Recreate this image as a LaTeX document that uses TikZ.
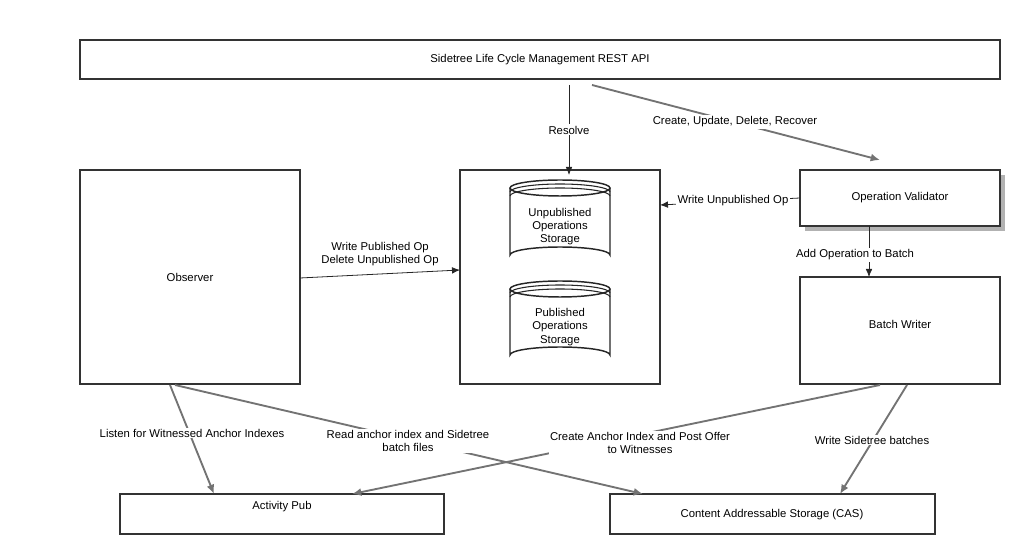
\documentclass[tikz,border=0pt]{standalone}
\usepackage{fontspec}
\setmainfont{Liberation Sans}
\begin{document}
\begin{tikzpicture}[x=0.75pt,y=-0.75pt,font=\fontsize{8.5}{10}\selectfont,
 box/.style={draw=black!80,line width=1.2pt},
 lab/.style={fill=white,inner sep=1pt,align=center},
 garr/.style={draw=black!55,line width=1.4pt,-{Latex[length=7pt,width=6pt]}},
 barr/.style={draw=black!85,line width=0.6pt,-{Latex[length=6pt,width=5pt]}}]
\useasboundingbox (0,0) rectangle (1026,555);
\usetikzlibrary{arrows.meta}
\draw[box] (80,40) rectangle (1000,79);
\node (api) at (540,59.5) {Sidetree Life Cycle Management REST API};
\draw[box] (80,170) rectangle (300,384);
\node (obs) at (190,277) {Observer};
\draw[box] (460,170) rectangle (660,384);
\coordinate (st) at (560,277);
\fill[black!30] (805,175) rectangle (1005,231);
\draw[box,fill=white,line width=1.6pt] (800,170) rectangle (1000,226);
\node (ov) at (900,198) {Operation Validator};
\draw[box] (800,277) rectangle (1000,384);
\node (bw) at (900,324) {Batch Writer};
\draw[box] (120,494) rectangle (444,534);
\node (ap) at (282,507) {Activity Pub};
\draw[box] (610,494) rectangle (935,534);
\node (cas) at (772,515) {Content Addressable Storage (CAS)};
% cylinders
\foreach \t/\b/\txt in {180/263/{Unpublished\\Operations\\Storage},281/363/{Published\\Operations\\Storage}}{
 \draw[black!85,line width=1.1pt,fill=white] (510,\t+8) -- (510,\b-8) arc[start angle=180,end angle=360,x radius=50,y radius=8] -- (610,\t+8);
 \draw[black!85,line width=1.1pt] (560,\t+8) ellipse[x radius=50,y radius=8];
 \draw[black!85,line width=0.8pt] (510,\t+12) arc[start angle=180,end angle=360,x radius=50,y radius=8];
 \draw[black!85,line width=0.8pt] (510,\t+16) arc[start angle=180,end angle=360,x radius=50,y radius=8];
 \node[align=center] at (560,{(\t+\b)/2+5}) {\txt};
}
% connectors
\draw[barr] (569,85) -- (569,175);
\node[lab] at (569,130) {Resolve};
\draw[garr] (592,85) -- (880,160);
\node[lab] at (735,122) {Create, Update, Delete, Recover};
\draw[barr] (800,198) -- (660,205);
\node[lab] at (733,201) {Write Unpublished Op};
\draw[barr] (869,226) -- (869,277);
\node[lab] at (855,255) {Add Operation to Batch};
\draw[barr] (300,278) -- (460,270);
\node[align=center] at (380,254) {Write Published Op\\Delete Unpublished Op};
\draw[garr] (170,385) -- (214,494);
\draw[garr] (175,385) -- (643,494);
\draw[garr] (880,385) -- (352,494);
\draw[garr] (907,385) -- (840,494);
\node[lab] at (192,433) {Listen for Witnessed Anchor Indexes};
\node[lab] at (408,441) {Read anchor index and Sidetree\\batch files};
\node[lab] at (640,443) {Create Anchor Index and Post Offer\\to Witnesses};
\node[lab] at (872,440) {Write Sidetree batches};
\end{tikzpicture}
\end{document}
